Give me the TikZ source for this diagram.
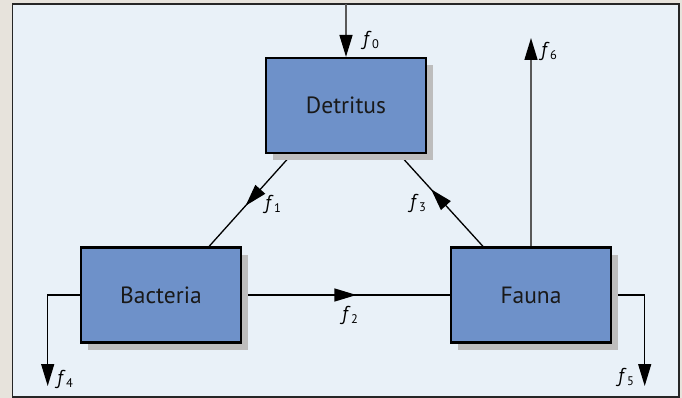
\documentclass[tikz,border=0pt]{standalone}
\usepackage{fontspec}
\setmainfont{PT Sans}
\usetikzlibrary{arrows.meta,shadows,decorations.markings,calc}
\pgfdeclarelayer{bg}
\pgfdeclarelayer{lines}
\pgfsetlayers{bg,lines,main}
\definecolor{outerbg}{HTML}{E7E3DC}
\definecolor{panelbg}{HTML}{E9F1F8}
\definecolor{boxfill}{HTML}{6E91C9}
\definecolor{shadowgray}{HTML}{BDBDBD}
\newcommand{\flab}[1]{{\fontsize{20}{22}\selectfont\textit{f}\kern0.3pt\raisebox{-0.3ex}{\fontsize{12.5}{13}\selectfont #1}}}
\tikzset{
  compbox/.style={draw=black, line width=2.2pt, fill=boxfill, minimum width=160pt, minimum height=95pt,
    font=\fontsize{23.5}{27}\selectfont, text=black!90,
    drop shadow={shadow xshift=7pt, shadow yshift=-7pt, fill=shadowgray, opacity=1}},
  flow/.style={line width=1.3pt, draw=black},
  grayflow/.style={line width=1.5pt, draw=black!65},
  tip/.style={-{Triangle[length=22pt,width=13pt,fill=black,color=black]}},
  midtip/.style={postaction={decorate}, decoration={markings, mark=at position #1 with {\arrow{Triangle[length=22pt,width=13pt,fill=black,color=black]}}}},
  flabel/.style={inner sep=0pt}
}
\begin{document}
\begin{tikzpicture}[x=1pt,y=-1pt]
\useasboundingbox (0,0) rectangle (682,398);
\begin{pgfonlayer}{bg}
  \fill[outerbg] (0,0) rectangle (682,398);
  \draw[fill=panelbg, draw=black!85, line width=1.6pt] (12.5,3.8) rectangle (679,397);
\end{pgfonlayer}

\node[compbox] (D) at (346,105.5) {Detritus};
\node[compbox] (B) at (161,295) {Bacteria};
\node[compbox] (F) at (531,295) {Fauna};

\coordinate (c0) at (346,4.5);
\coordinate (c6) at (531,38);
\coordinate (c4) at (47.7,386);
\coordinate (c5) at (644.7,386);

\begin{pgfonlayer}{lines}
  \draw[grayflow, tip] (c0) -- (D.north);
  \draw[grayflow, tip] (F.north) -- (c6);
  \draw[flow, midtip=0.56] ([xshift=27pt]D.south west) -- ([xshift=-33pt]B.north east);
  \draw[flow, midtip=0.62] ([xshift=-48pt]F.north) -- ([xshift=-28pt]D.south east);
  \draw[flow, midtip=0.55] (B.east) -- (F.west);
  \draw[flow, tip] (B.west) -| (c4);
  \draw[flow, tip] (F.east) -| (c5);
\end{pgfonlayer}

\node[flabel] (l0) at (371,40) {\flab{0}};
\node[flabel] (l6) at (549,51) {\flab{6}};
\node[flabel] (l1) at (273,204) {\flab{1}};
\node[flabel] (l3) at (418,203) {\flab{3}};
\node[flabel] (l2) at (350,315) {\flab{2}};
\node[flabel] (l4) at (65,379) {\flab{4}};
\node[flabel] (l5) at (626,377) {\flab{5}};
\end{tikzpicture}
\end{document}
